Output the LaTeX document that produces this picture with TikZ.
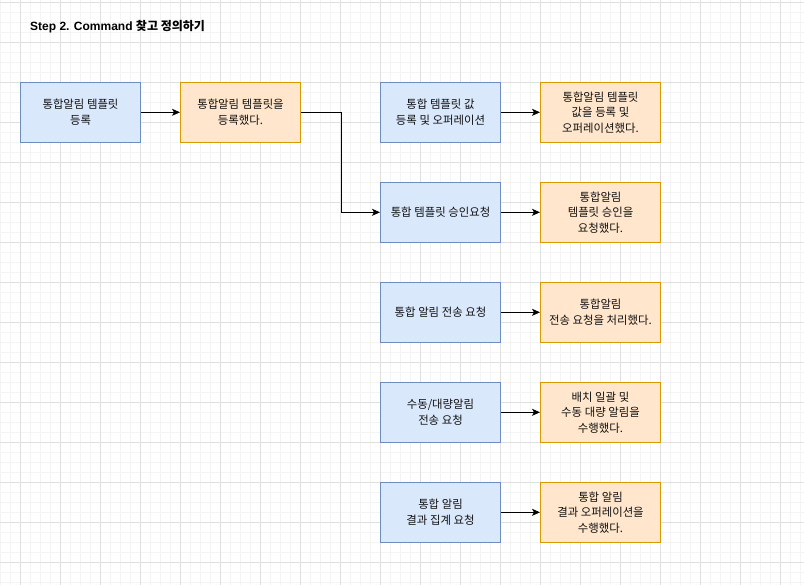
\documentclass[tikz,border=0pt]{standalone}
\usepackage{fontspec}
\setmainfont{Noto Sans CJK KR}
\newfontfamily\latinsans{Liberation Sans}
\usetikzlibrary{arrows.meta}
\definecolor{bfill}{HTML}{DAE8FC}
\definecolor{bline}{HTML}{6C8EBF}
\definecolor{ofill}{HTML}{FFE6CC}
\definecolor{oline}{HTML}{D79B00}
\definecolor{gminor}{HTML}{F4F4F4}
\definecolor{gmajor}{HTML}{E0E0E0}
\definecolor{txt}{HTML}{111111}
\tikzset{
  box/.style={draw, line width=1pt, minimum width=120pt, minimum height=60pt, align=center, inner sep=0pt, font=\fontsize{11.4}{15.5}\selectfont, text=txt},
  cmd/.style={box, fill=bfill, draw=bline},
  evt/.style={box, fill=ofill, draw=oline},
  conn/.style={line width=1pt, -{Stealth[length=8pt,width=7pt,inset=2pt]}},
}
\begin{document}
\begin{tikzpicture}[x=1pt,y=-1pt]
\useasboundingbox (0,0) rectangle (804,585);
\fill[white] (0,0) rectangle (804,585);
% grid
\foreach \i in {0,...,80} {\draw[gminor, line width=0.8pt] (0.7+10*\i,0) -- (0.7+10*\i,585);}
\foreach \j in {0,...,58} {\draw[gminor, line width=0.8pt] (0,2.7+10*\j) -- (804,2.7+10*\j);}
\foreach \i in {0,...,19} {\draw[gmajor, line width=0.8pt] (20.7+40*\i,0) -- (20.7+40*\i,585);}
\foreach \j in {0,...,14} {\draw[gmajor, line width=0.8pt] (0,2.7+40*\j) -- (804,2.7+40*\j);}
% title
\node[anchor=west, inner sep=0pt, font=\bfseries\fontsize{12}{14}\selectfont, text=black] (title) at (30,27) {{\latinsans Step 2. Command }찾고 정의하기};
% boxes
\node[cmd] (a1) at (80.5,112.3) {통합알림 템플릿\\등록};
\node[evt] (a2) at (240.5,112.3) {통합알림 템플릿을\\등록했다.};
\node[cmd] (b1) at (440.5,112.3) {통합 템플릿 값\\등록 및 오퍼레이션};
\node[evt] (b2) at (600.5,112.3) {통합알림 템플릿\\값을 등록 및\\오퍼레이션했다.};
\node[cmd] (c1) at (440.5,212.3) {통합 템플릿 승인요청};
\node[evt] (c2) at (600.5,212.3) {통합알림\\템플릿 승인을\\요청했다.};
\node[cmd] (d1) at (440.5,312.3) {통합 알림 전송 요청};
\node[evt] (d2) at (600.5,312.3) {통합알림\\전송 요청을 처리했다.};
\node[cmd] (e1) at (440.5,412.3) {수동/대량알림\\전송 요청};
\node[evt] (e2) at (600.5,412.3) {배치 일괄 및\\수동 대량 알림을\\수행했다.};
\node[cmd] (f1) at (440.5,512.3) {통합 알림\\결과 집계 요청};
\node[evt] (f2) at (600.5,512.3) {통합 알림\\결과 오퍼레이션을\\수행했다.};
% connectors
\draw[conn] (a1) -- (a2);
\draw[conn] (a2.east) -- ++(40,0) |- (c1.west);
\draw[conn] (b1) -- (b2);
\draw[conn] (c1) -- (c2);
\draw[conn] (d1) -- (d2);
\draw[conn] (e1) -- (e2);
\draw[conn] (f1) -- (f2);
\end{tikzpicture}
\end{document}
